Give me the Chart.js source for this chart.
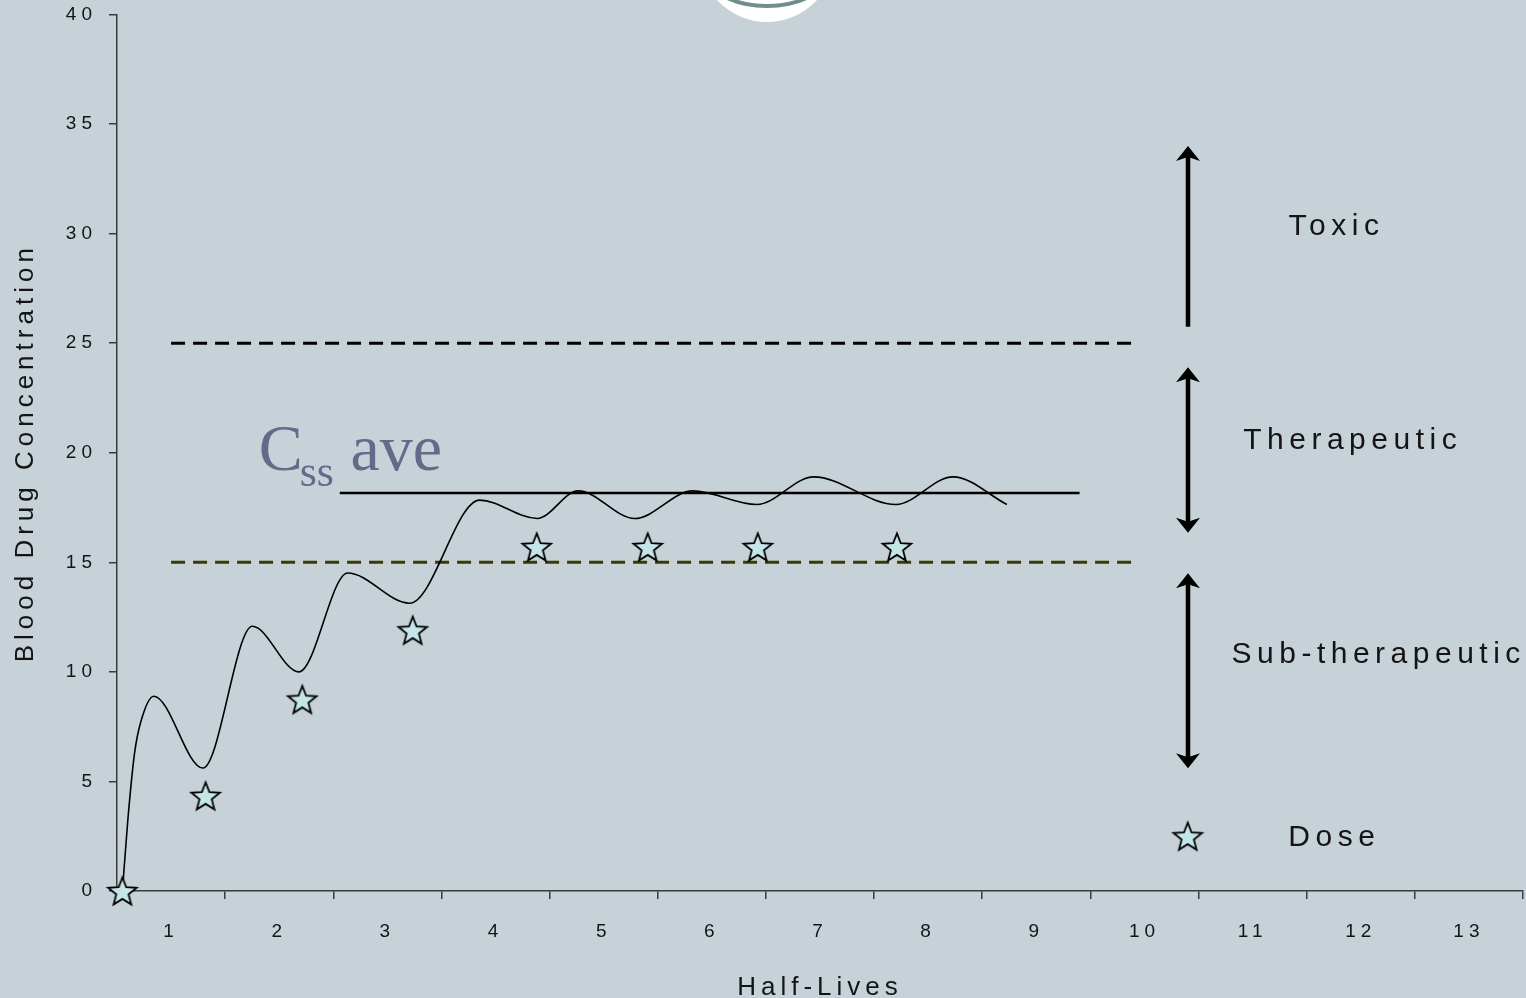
<!DOCTYPE html>
<html>
<head>
<meta charset="utf-8">
<title>Blood Drug Concentration vs Half-Lives</title>
<script src="https://cdn.jsdelivr.net/npm/chart.js@4.4.1/dist/chart.umd.min.js"></script>
<style>
  html, body { margin: 0; padding: 0; background: #c6d1d8; overflow: hidden; }
  #wrap { position: relative; width: 1526px; height: 998px; }
  #chart { display: block; }
  #badge { position: absolute; left: 0; top: 0; pointer-events: none; }
</style>
</head>
<body>
<div id="wrap">
  <canvas id="chart" width="1526" height="998"></canvas>
  <svg id="badge" width="1526" height="40" viewBox="0 0 1526 40">
    <circle cx="767" cy="-46" r="68" fill="#ffffff"/>
    <ellipse cx="767" cy="-40" rx="70" ry="46" fill="none" stroke="#6f8d8b" stroke-width="4"/>
  </svg>
</div>
<script>
// Axis ticks
const halfLifeLabels = [1, 2, 3, 4, 5, 6, 7, 8, 9, 10, 11, 12, 13];
const concentrationTicks = [0, 5, 10, 15, 20, 25, 30, 35, 40];

// Concentration curve under repeated dosing: start, then alternating peaks and troughs
const curveX = [0.55, 0.600, 0.662, 0.724, 0.840, 1.294, 1.751, 2.182, 2.633, 3.206,
                3.853, 4.385, 4.765, 5.287, 5.824, 6.416, 6.943, 7.702, 8.229, 8.728];
const curveY = [0, 3.23, 6.28, 7.79, 8.89, 5.61, 12.08, 10.00, 14.51, 13.13,
                17.84, 17.00, 18.26, 17.00, 18.26, 17.64, 18.90, 17.64, 18.90, 17.64];

// Dose markers
const doseX = [0.55, 1.319, 2.213, 3.234, 4.381, 5.407, 6.425, 7.711];
const doseY = [0, 4.34, 8.74, 11.90, 15.70, 15.70, 15.70, 15.70];
const doseKeyX = [10.40];
const doseKeyY = [2.50];

// Therapeutic window boundaries and the steady-state average
const toxicThreshold = 25;
const effectiveThreshold = 15;
const boundaryStartEnd = [1.0, 9.92];
const cssAverage = 18.16;
const cssStartEnd = [2.56, 9.40];
const cssLabelAt = [1.81, 19.2];

// Zone arrows (x position, lower and upper ends)
const zoneArrowX = 10.40;
const arrowLow = [25.75, 16.35, 5.60];
const arrowHigh = [34.00, 23.90, 14.50];
const arrowHeadAtLow = [false, true, true];

// Zone captions
const zoneNames = ['Toxic', 'Therapeutic', 'Sub-therapeutic', 'Dose'];
const zoneLabelX = [11.75, 11.90, 12.14, 11.73];
const zoneLabelY = [30.30, 20.55, 10.78, 2.41];

const SANS = '"Liberation Sans", Arial, Helvetica, sans-serif';
const SERIF = '"Liberation Serif", "Times New Roman", serif';
const INK = '#141414';
const AXIS = '#3a3a3a';

function zip(xs, ys) { return xs.map((x, i) => ({ x: x, y: ys[i] })); }

// Five-pointed star marker, drawn once and reused as the point style
function makeStar(R, ratio) {
  const s = Math.ceil(R * 2 + 4);
  const c = document.createElement('canvas');
  c.width = s; c.height = s;
  const g = c.getContext('2d');
  const cx = s / 2, cy = s / 2 + 0.095 * R;
  g.beginPath();
  for (let i = 0; i < 10; i++) {
    const a = -Math.PI / 2 + i * Math.PI / 5;
    const rr = (i % 2) ? R * ratio : R;
    g.lineTo(cx + rr * Math.cos(a), cy + rr * Math.sin(a));
  }
  g.closePath();
  g.fillStyle = '#c4e6e8';
  g.fill();
  g.lineWidth = 1.8;
  g.lineJoin = 'miter';
  g.strokeStyle = '#000';
  g.stroke();
  return c;
}
const star = makeStar(15, 0.43);

// Draws an arrowhead whose tip is at (x, y), pointing in direction dir (-1 up, +1 down)
function arrowHead(ctx, x, y, dir) {
  ctx.beginPath();
  ctx.moveTo(x, y);
  ctx.lineTo(x + 12, y - dir * 15);
  ctx.lineTo(x, y - dir * 11);
  ctx.lineTo(x - 12, y - dir * 15);
  ctx.closePath();
  ctx.fill();
}

// Keeps the plot area flush with the scale boxes
function noEdgePadding(scale) {
  scale.paddingLeft = 0;
  scale.paddingRight = 0;
  scale.paddingTop = 0;
  scale.paddingBottom = 0;
}

const overlayPlugin = {
  id: 'overlay',
  beforeDraw(chart) {
    chart.ctx.letterSpacing = '5px';
  },
  afterDatasetsDraw(chart) {
    const ctx = chart.ctx;
    const xs = chart.scales.x, ys = chart.scales.y;
    ctx.save();

    // zone arrows
    ctx.strokeStyle = '#000';
    ctx.fillStyle = '#000';
    ctx.lineWidth = 4.5;
    const ax = Math.round(xs.getPixelForValue(zoneArrowX));
    arrowLow.forEach((lo, i) => {
      const yLo = ys.getPixelForValue(lo);
      const yHi = ys.getPixelForValue(arrowHigh[i]);
      ctx.beginPath();
      ctx.moveTo(ax, arrowHeadAtLow[i] ? yLo - 10 : yLo);
      ctx.lineTo(ax, yHi + 10);
      ctx.stroke();
      arrowHead(ctx, ax, yHi, -1);
      if (arrowHeadAtLow[i]) arrowHead(ctx, ax, yLo, 1);
    });

    // zone captions
    ctx.letterSpacing = '5.5px';
    ctx.font = '30px ' + SANS;
    ctx.fillStyle = INK;
    ctx.textAlign = 'center';
    ctx.textBaseline = 'middle';
    zoneNames.forEach((name, i) => {
      ctx.fillText(name, xs.getPixelForValue(zoneLabelX[i]) + 2.75, ys.getPixelForValue(zoneLabelY[i]));
    });

    // C_ss ave label
    ctx.letterSpacing = '0px';
    ctx.fillStyle = '#636b8b';
    ctx.textAlign = 'left';
    ctx.textBaseline = 'alphabetic';
    let lx = xs.getPixelForValue(cssLabelAt[0]);
    const ly = ys.getPixelForValue(cssLabelAt[1]);
    ctx.font = '66px ' + SERIF;
    ctx.fillText('C', lx, ly);
    lx += ctx.measureText('C').width - 3;
    ctx.font = '44px ' + SERIF;
    ctx.fillText('ss', lx, ly + 16);
    lx += ctx.measureText('ss').width;
    ctx.font = '66px ' + SERIF;
    ctx.fillText(' ave', lx, ly);

    ctx.restore();
    ctx.letterSpacing = '5px';
  }
};

const ctx = document.getElementById('chart').getContext('2d');
new Chart(ctx, {
  type: 'scatter',
  data: {
    datasets: [
      {
        label: 'Concentration',
        data: zip(curveX, curveY),
        showLine: true,
        borderColor: '#000',
        borderWidth: 1.6,
        pointRadius: 0,
        cubicInterpolationMode: 'monotone',
        fill: false,
        order: 3
      },
      {
        label: 'Toxic threshold',
        data: zip(boundaryStartEnd, [toxicThreshold, toxicThreshold]),
        showLine: true,
        borderColor: '#000',
        borderWidth: 3,
        borderDash: [14, 8],
        pointRadius: 0,
        order: 4
      },
      {
        label: 'Minimum effective',
        data: zip(boundaryStartEnd, [effectiveThreshold, effectiveThreshold]),
        showLine: true,
        borderColor: '#3b3b00',
        borderWidth: 3,
        borderDash: [14, 8],
        pointRadius: 0,
        order: 4
      },
      {
        label: 'Css ave',
        data: zip(cssStartEnd, [cssAverage, cssAverage]),
        showLine: true,
        borderColor: '#000',
        borderWidth: 2.6,
        pointRadius: 0,
        order: 2
      },
      {
        label: 'Dose',
        data: zip(doseX, doseY),
        showLine: false,
        pointStyle: star,
        pointRadius: 15,
        clip: false,
        order: 1
      },
      {
        label: 'Dose key',
        data: zip(doseKeyX, doseKeyY),
        showLine: false,
        pointStyle: star,
        pointRadius: 15,
        clip: false,
        order: 1
      }
    ]
  },
  options: {
    responsive: false,
    animation: false,
    events: [],
    layout: { autoPadding: false, padding: { top: 14.5, right: 3, left: 0, bottom: 0 } },
    plugins: {
      legend: { display: false },
      tooltip: { enabled: false }
    },
    scales: {
      x: {
        type: 'linear',
        min: 0.5,
        max: 13.5,
        afterFit(scale) { scale.height = 107; noEdgePadding(scale); },
        afterBuildTicks(scale) {
          const t = [{ value: 0.5 }];
          halfLifeLabels.forEach(v => { t.push({ value: v }); t.push({ value: v + 0.5 }); });
          scale.ticks = t;
        },
        ticks: {
          autoSkip: false,
          maxRotation: 0,
          minRotation: 0,
          padding: 21,
          color: INK,
          font: { family: SANS, size: 19 },
          callback: v => Number.isInteger(v) ? String(v) : ''
        },
        grid: {
          drawOnChartArea: false,
          drawTicks: true,
          tickLength: 8,
          lineWidth: 1.5,
          color: c => (c.tick && Number.isInteger(c.tick.value)) ? 'rgba(0,0,0,0)' : AXIS
        },
        border: { display: true, color: AXIS, width: 1.5 },
        title: {
          display: true,
          text: 'Half-Lives',
          color: INK,
          font: { family: SANS, size: 26, lineHeight: 0.76 },
          padding: { top: 0, bottom: 0 }
        }
      },
      y: {
        type: 'linear',
        min: 0,
        max: 40,
        afterFit(scale) { scale.width = 117; noEdgePadding(scale); },
        afterBuildTicks(scale) {
          scale.ticks = concentrationTicks.map(v => ({ value: v }));
        },
        ticks: {
          padding: 12,
          color: INK,
          font: { family: SANS, size: 19 }
        },
        grid: {
          drawOnChartArea: false,
          drawTicks: true,
          tickLength: 8,
          lineWidth: 1.5,
          color: AXIS
        },
        border: { display: true, color: AXIS, width: 1.5 },
        title: {
          display: true,
          text: 'Blood Drug Concentration',
          color: INK,
          font: { family: SANS, size: 26, lineHeight: 1 },
          padding: { top: 13, bottom: 0 }
        }
      }
    }
  },
  plugins: [overlayPlugin]
});
</script>
</body>
</html>
